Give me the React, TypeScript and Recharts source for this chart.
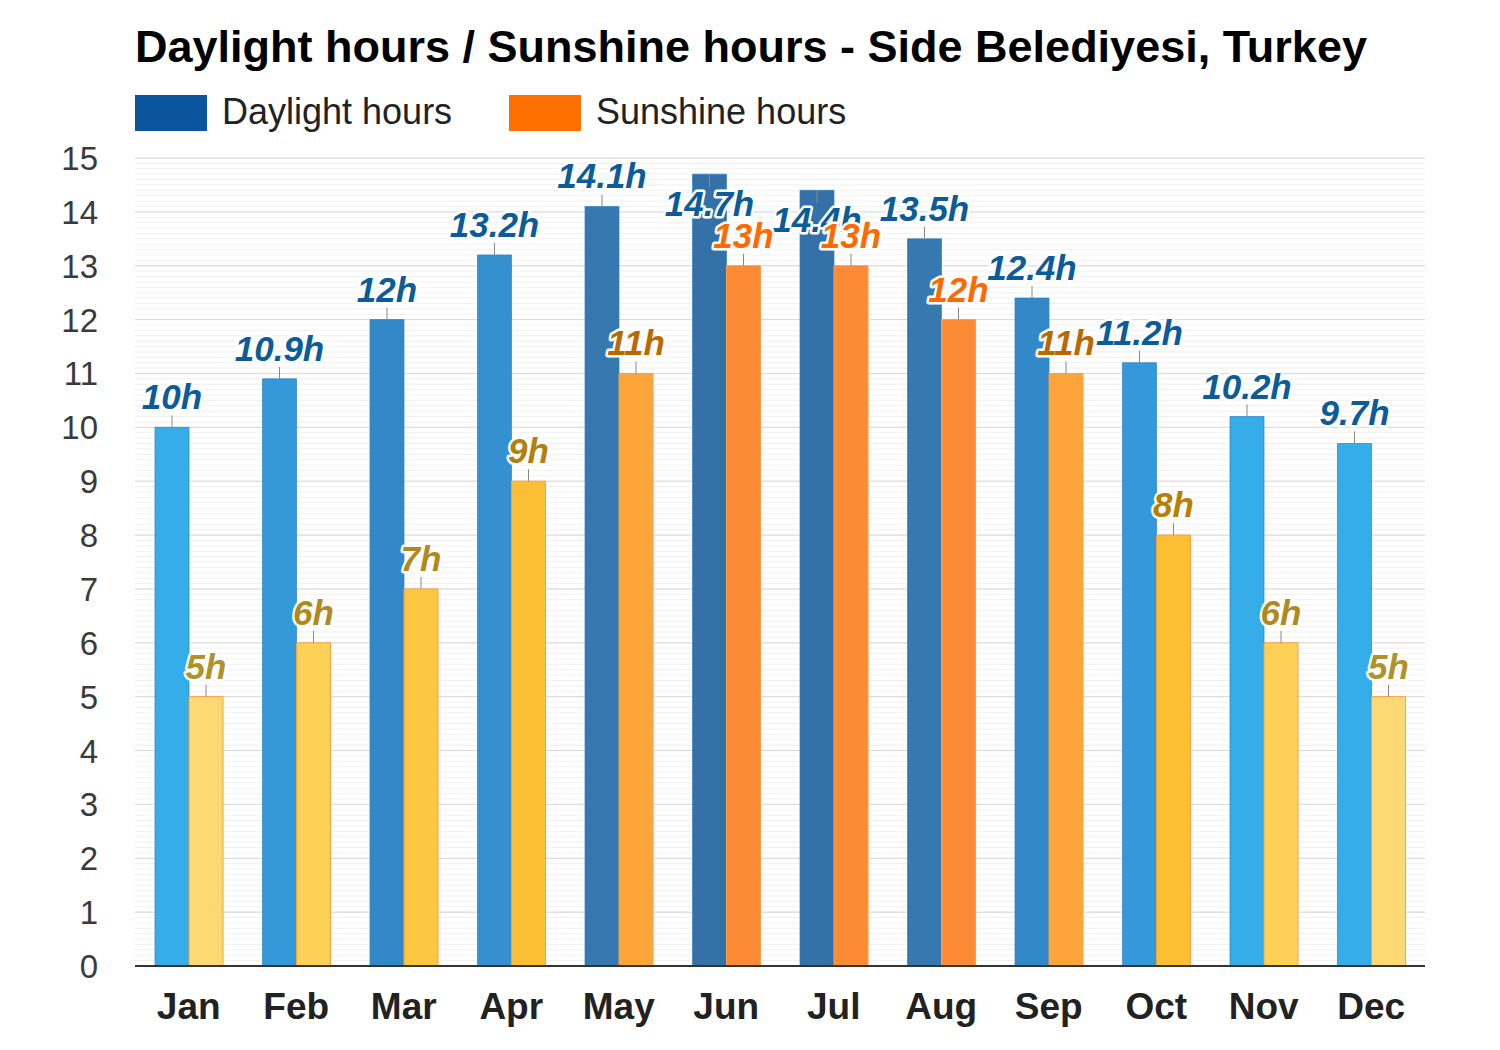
import { Bar, BarChart, CartesianGrid, Cell, LabelList, XAxis, YAxis } from 'recharts';

const months = ['Jan', 'Feb', 'Mar', 'Apr', 'May', 'Jun', 'Jul', 'Aug', 'Sep', 'Oct', 'Nov', 'Dec'];
const daylight = [10, 10.9, 12, 13.2, 14.1, 14.7, 14.4, 13.5, 12.4, 11.2, 10.2, 9.7];
const sunshine = [5, 6, 7, 9, 11, 13, 13, 12, 11, 8, 6, 5];
const yTicks = [0, 1, 2, 3, 4, 5, 6, 7, 8, 9, 10, 11, 12, 13, 14, 15];
const Y_MAX = 15;

const daylightFills = ['#35ade9', '#3399d8', '#3388c8', '#3590d0', '#3679b0', '#3371a8', '#3371a8', '#3679b0', '#3388c8', '#3399d8', '#35ade9', '#35ade9'];
const sunshineFills = ['#fdd974', '#fdd155', '#fdc73f', '#fdbf35', '#fda43b', '#fd8a35', '#fd8a35', '#fd8a35', '#fda43b', '#fdc035', '#fdd155', '#fdd974'];
const sunshineLabelColors = ['#b0922a', '#b08a20', '#b08a20', '#b08010', '#b86a00', '#ff6a00', '#ff6a00', '#ff6a00', '#b86a00', '#b88000', '#b08a20', '#b0922a'];

const data = months.map((m, i) => ({ month: m, daylight: daylight[i], sunshine: sunshine[i] }));

const PLOT_TOP = 158;
const font = 'Arial, "Liberation Sans", Helvetica, sans-serif';

const makeLabel = (colors: string[] | string) => (props: any) => {
  const { x, y, width, value, index } = props;
  const cx = x + width / 2;
  const color = Array.isArray(colors) ? colors[index] : colors;
  const flip = y - 18 - 24 < PLOT_TOP;
  const tickEnd = flip ? y + 13 : y - 12;
  const baseline = flip ? y + 42 : y - 18;
  return (
    <g>
      <line x1={cx} x2={cx} y1={y} y2={tickEnd} stroke="#888" strokeWidth={1} />
      <text
        x={cx}
        y={baseline}
        textAnchor="middle"
        fontFamily={font}
        fontSize={35}
        fontWeight="bold"
        fontStyle="italic"
        fill={color}
        stroke="#fff"
        strokeWidth={5}
        strokeLinejoin="round"
        style={{ paintOrder: 'stroke' }}
      >
        {value}h
      </text>
    </g>
  );
};

// y position of a value inside the plot area
const toY = (offset: any, v: number) => offset.top + offset.height * (1 - v / Y_MAX);

const minorGen = ({ offset }: any) => {
  const pts: number[] = [];
  for (let i = 0; i <= Y_MAX * 10; i++) pts.push(toY(offset, i / 10));
  return pts;
};
const majorGen = ({ offset }: any) => yTicks.map((t) => toY(offset, t));

const YTick = ({ y, payload }: any) => (
  <text x={98} y={y} dy={12} textAnchor="end" fontFamily={font} fontSize={33} fill="#3a3a3a">
    {payload.value}
  </text>
);

const XTick = ({ x, y, payload }: any) => (
  <text x={x} y={y} dy={45} textAnchor="middle" fontFamily={font} fontSize={37} fontWeight="bold" fill="#222">
    {payload.value}
  </text>
);

export default function App() {
  return (
    <div style={{ position: 'absolute', left: 0, top: 0, width: 1500, height: 1050, background: '#fff', fontFamily: font }}>
      <div style={{ position: 'absolute', left: 135, top: 21, fontSize: 45, fontWeight: 'bold', color: '#000', whiteSpace: 'nowrap' }}>
        Daylight hours / Sunshine hours - Side Belediyesi, Turkey
      </div>
      <div style={{ position: 'absolute', left: 135, top: 95, width: 72, height: 36, background: '#0a559c' }} />
      <div style={{ position: 'absolute', left: 222, top: 91, fontSize: 36, color: '#222', whiteSpace: 'nowrap' }}>Daylight hours</div>
      <div style={{ position: 'absolute', left: 509, top: 95, width: 72, height: 36, background: '#ff7000' }} />
      <div style={{ position: 'absolute', left: 596, top: 91, fontSize: 36, color: '#222', whiteSpace: 'nowrap' }}>Sunshine hours</div>
      <div style={{ position: 'absolute', left: 0, top: 0 }}>
        <BarChart
          width={1500}
          height={1050}
          data={data}
          margin={{ top: PLOT_TOP, right: 75, bottom: 24, left: 75 }}
          barGap={0}
          barSize={34}
        >
          <CartesianGrid vertical={false} stroke="#f0f0f0" horizontalCoordinatesGenerator={minorGen} />
          <CartesianGrid vertical={false} stroke="#d8d8d8" horizontalCoordinatesGenerator={majorGen} />
          <XAxis
            dataKey="month"
            height={60}
            tick={<XTick />}
            tickLine={false}
            axisLine={{ stroke: '#333', strokeWidth: 2 }}
          />
          <YAxis
            width={60}
            domain={[0, Y_MAX]}
            ticks={yTicks}
            interval={0}
            tick={<YTick />}
            tickLine={false}
            axisLine={false}
          />
          <Bar dataKey="daylight" isAnimationActive={false}>
            {data.map((d, i) => (
              <Cell key={d.month} fill={daylightFills[i]} stroke="#2f7fbf" strokeOpacity={0.7} />
            ))}
            <LabelList dataKey="daylight" content={makeLabel('#0b5c98')} />
          </Bar>
          <Bar dataKey="sunshine" isAnimationActive={false}>
            {data.map((d, i) => (
              <Cell key={d.month} fill={sunshineFills[i]} stroke="#f7a048" />
            ))}
            <LabelList dataKey="sunshine" content={makeLabel(sunshineLabelColors)} />
          </Bar>
        </BarChart>
      </div>
    </div>
  );
}
